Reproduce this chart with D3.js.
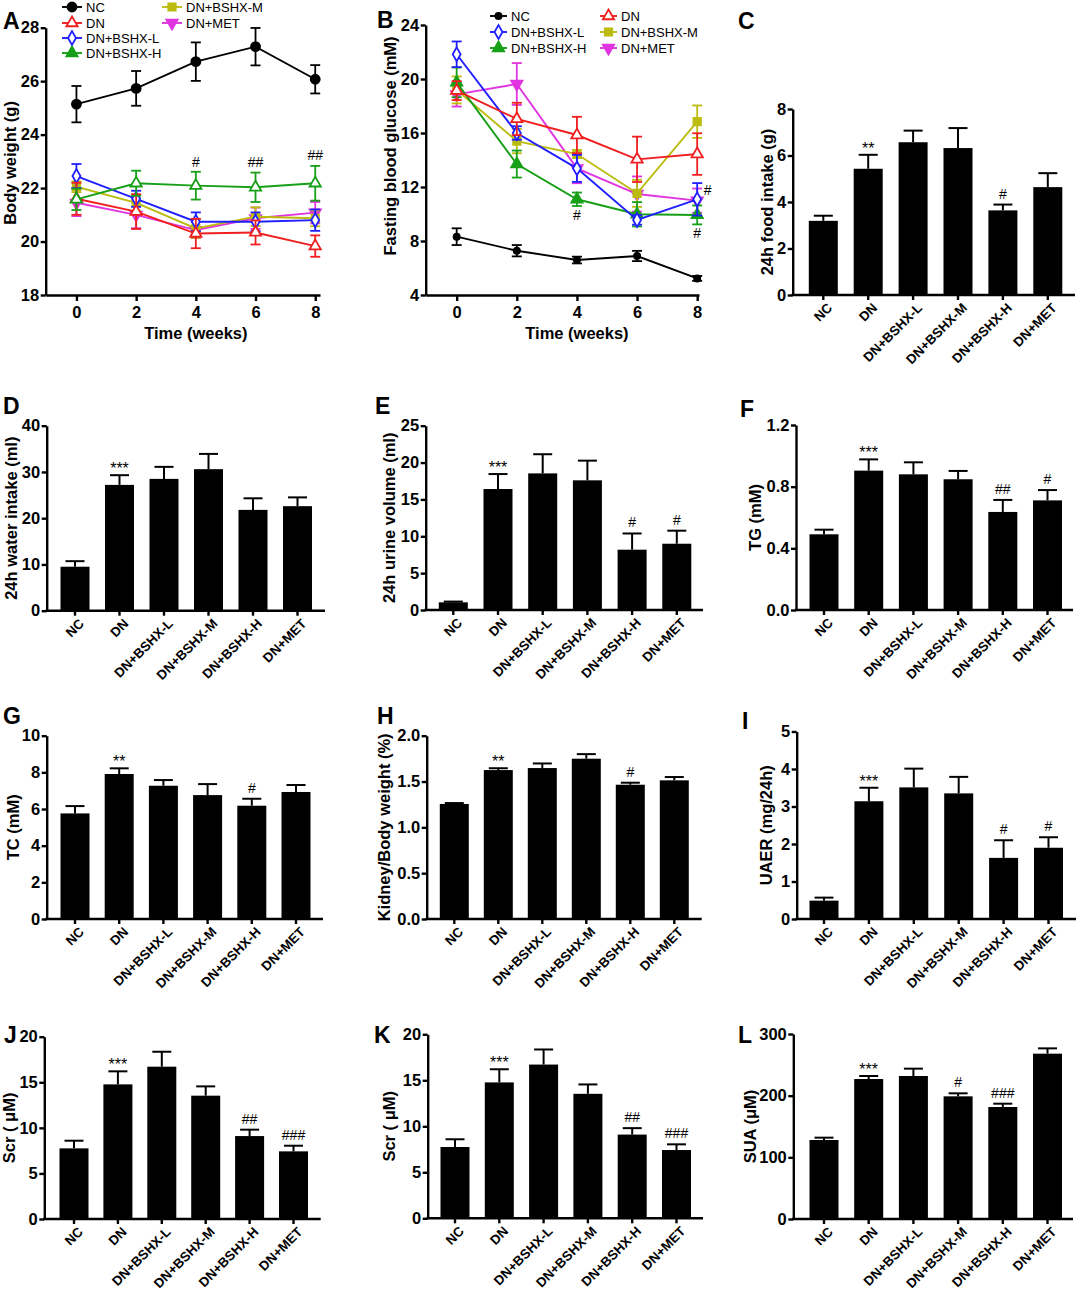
<!DOCTYPE html>
<html>
<head>
<meta charset="utf-8">
<script src="https://cdn.jsdelivr.net/npm/d3@7"></script>
<style>
  body { margin: 0; background: #fff; }
  svg { display: block; }
</style>
</head>
<body>
<svg id="fig" width="1079" height="1292"></svg>
<script>
// ---- data ----
const groups = ['NC', 'DN', 'DN+BSHX-L', 'DN+BSHX-M', 'DN+BSHX-H', 'DN+MET'];
const weeks = [0, 2, 4, 6, 8];

// A: body weight (g), mean and SEM per week
const bwNC = [25.14, 25.73, 26.73, 27.29, 26.07];
const bwNCErr = [0.68, 0.65, 0.72, 0.7, 0.53];
const bwDN = [21.6, 21.12, 20.3, 20.34, 19.83];
const bwDNErr = [0.6, 0.65, 0.55, 0.45, 0.4];
const bwL = [22.45, 21.6, 20.74, 20.74, 20.8];
const bwLErr = [0.45, 0.3, 0.35, 0.35, 0.4];
const bwM = [22.05, 21.45, 20.49, 20.93, 20.87];
const bwMErr = [0.2, 0.3, 0.35, 0.35, 0.3];
const bwH = [21.58, 22.18, 22.09, 22.03, 22.18];
const bwHErr = [0.4, 0.47, 0.52, 0.55, 0.65];
const bwMET = [21.45, 21.0, 20.43, 20.87, 21.08];
const bwMETErr = [0.5, 0.5, 0.3, 0.4, 0.4];

// B: fasting blood glucose (mM)
const fbgNC = [8.32, 7.28, 6.59, 6.89, 5.23];
const fbgNCErr = [0.62, 0.42, 0.25, 0.38, 0.18];
const fbgDN = [19.14, 17.04, 15.85, 14.05, 14.44];
const fbgDNErr = [0.7, 1.2, 1.35, 1.68, 1.54];
const fbgL = [21.83, 16.0, 13.38, 9.56, 11.09];
const fbgLErr = [0.95, 0.5, 1.0, 0.35, 1.2];
const fbgM = [19.19, 15.4, 14.44, 11.53, 16.84];
const fbgMErr = [1.0, 0.9, 0.3, 1.0, 1.2];
const fbgH = [19.75, 13.7, 11.09, 9.98, 9.93];
const fbgHErr = [1.1, 1.0, 0.5, 0.9, 0.7];
const fbgMET = [18.86, 19.63, 13.38, 11.48, 10.99];
const fbgMETErr = [0.9, 1.55, 1.1, 1.3, 0.9];

// C-L: bar panels, mean and SEM per group
const food = [3.19, 5.43, 6.57, 6.32, 3.64, 4.64];
const foodErr = [0.22, 0.6, 0.5, 0.86, 0.25, 0.6];
const water = [9.51, 27.2, 28.5, 30.6, 21.8, 22.6];
const waterErr = [1.2, 2.1, 2.6, 3.3, 2.5, 1.9];
const urine = [1.04, 16.41, 18.53, 17.59, 8.18, 8.99];
const urineErr = [0.1, 2.03, 2.6, 2.67, 2.2, 1.77];
const tg = [0.491, 0.904, 0.88, 0.848, 0.636, 0.711];
const tgErr = [0.03, 0.073, 0.078, 0.054, 0.078, 0.067];
const tc = [5.76, 7.91, 7.27, 6.76, 6.18, 6.93];
const tcErr = [0.4, 0.31, 0.31, 0.6, 0.38, 0.38];
const kidney = [1.255, 1.625, 1.647, 1.749, 1.465, 1.513];
const kidneyErr = [0.01, 0.02, 0.05, 0.05, 0.022, 0.036];
const uaer = [0.49, 3.14, 3.51, 3.35, 1.63, 1.9];
const uaerErr = [0.08, 0.36, 0.5, 0.44, 0.47, 0.28];
const scr = [7.75, 14.77, 16.71, 13.53, 9.1, 7.42];
const scrErr = [0.84, 1.43, 1.64, 1.02, 0.7, 0.62];
const sua = [128.1, 227, 231.9, 198.9, 181.6, 268.1];
const suaErr = [3.8, 4.9, 11.9, 4.9, 5.4, 8.6];

// significance marks: [group index, text]
const markFood = [[1, '**'], [4, '#']];
const markWater = [[1, '***']];
const markUrine = [[1, '***'], [4, '#'], [5, '#']];
const markTg = [[1, '***'], [4, '##'], [5, '#']];
const markTc = [[1, '**'], [4, '#']];
const markKidney = [[1, '**'], [4, '#']];
const markUaer = [[1, '***'], [4, '#'], [5, '#']];
const markScr = [[1, '***'], [4, '##'], [5, '###']];
const markSua = [[1, '***'], [3, '#'], [4, '###']];

// marks in the line panels: [week, value, text]
const markBw = [[4, 22.8, '#'], [6, 22.8, '##'], [8, 23.05, '##']];
const markFbg = [[4, 9.56, '#'], [8.35, 11.4, '#'], [8, 8.2, '#']];

const FONT = '"Liberation Sans", Arial, Helvetica, sans-serif';
const svg = d3.select('#fig').attr('font-family', FONT);
svg.append('rect').attr('width', 1079).attr('height', 1292).attr('fill', '#fff');

const triDown = {
  draw(ctx, size) { d3.symbolTriangle.draw(ctx, size); }
};

const styles = {
  NC: { color: '#000000', sym: d3.symbolCircle, fill: '#000000' },
  DN: { color: '#f01e1e', sym: d3.symbolTriangle, fill: '#ffffff' },
  L: { color: '#1f1fff', sym: d3.symbolDiamond, fill: '#ffffff' },
  M: { color: '#bcbc10', sym: d3.symbolSquare, fill: '#bcbc10' },
  H: { color: '#17a017', sym: d3.symbolTriangle, fill: '#17a017' },
  MET: { color: '#e034e0', sym: triDown, fill: '#e034e0', flip: true }
};

function styleAxis(g, size) {
  g.attr('font-family', FONT).attr('font-size', size).attr('font-weight', 'bold');
  g.selectAll('path, line').attr('stroke', '#000').attr('stroke-width', 2.4);
  g.selectAll('text').attr('fill', '#000');
}

function letter(t, x, y) {
  svg.append('text').attr('x', x).attr('y', y).text(t)
    .attr('font-size', 23).attr('font-weight', 'bold');
}

function yTitle(t, x, y, size) {
  svg.append('text').attr('transform', `translate(${x},${y}) rotate(-90)`)
    .attr('text-anchor', 'middle').attr('dy', '0.35em')
    .attr('font-size', size || 16.5).attr('font-weight', 'bold').text(t);
}

function marker(g, st, size, x, y) {
  g.append('path')
    .attr('d', d3.symbol(st.sym, size)())
    .attr('transform', `translate(${x},${y})${st.flip ? ' rotate(180)' : ''}`)
    .attr('fill', st.fill).attr('stroke', st.color).attr('stroke-width', 1.8);
}

/** Line chart with symmetric error bars. */
function linePanel(o) {
  const x = d3.scaleLinear().domain(o.xDomain).range([o.left, o.right]);
  const y = d3.scaleLinear().domain(o.yDomain).range([o.bottom, o.top]);
  const g = svg.append('g');

  o.series.forEach(s => {
    const st = styles[s.key];
    const sg = g.append('g');
    const pts = weeks.map((w, i) => ({ w, v: s.vals[i], e: s.errs[i] }));

    sg.selectAll('line.eb').data(pts).join('line')
      .attr('x1', d => x(d.w)).attr('x2', d => x(d.w))
      .attr('y1', d => y(d.v - d.e)).attr('y2', d => y(d.v + d.e))
      .attr('stroke', st.color).attr('stroke-width', 1.8);
    [-1, 1].forEach(sign => {
      sg.selectAll(null).data(pts).join('line')
        .attr('x1', d => x(d.w) - 5).attr('x2', d => x(d.w) + 5)
        .attr('y1', d => y(d.v + sign * d.e)).attr('y2', d => y(d.v + sign * d.e))
        .attr('stroke', st.color).attr('stroke-width', 1.8);
    });

    sg.append('path')
      .attr('d', d3.line().x(d => x(d.w)).y(d => y(d.v))(pts))
      .attr('fill', 'none').attr('stroke', st.color).attr('stroke-width', 1.9);

    const msize = s.key === 'NC' ? o.ncSize : 55;
    const mst = (s.key === 'H' && o.hOpen) ? { ...st, fill: '#ffffff' } : st;
    pts.forEach(d => marker(sg, mst, msize, x(d.w), y(d.v)));
  });

  const ya = g.append('g').attr('transform', `translate(${o.left},0)`)
    .call(d3.axisLeft(y).tickValues(o.yTicks).tickSize(5).tickSizeOuter(0).tickPadding(1.5));
  styleAxis(ya, 16.5);
  const xa = g.append('g').attr('transform', `translate(0,${o.bottom})`)
    .call(d3.axisBottom(x).tickValues(weeks).tickSize(6).tickSizeOuter(0).tickPadding(5));
  styleAxis(xa, 16.5);

  g.append('text').attr('x', (x(0) + x(8)) / 2).attr('y', o.xTitleY)
    .attr('text-anchor', 'middle').attr('font-size', 16.5).attr('font-weight', 'bold')
    .text('Time (weeks)');

  o.marks.forEach(([w, v, t]) => {
    g.append('text').attr('x', x(w)).attr('y', y(v)).attr('text-anchor', 'middle')
      .attr('font-size', 14).text(t);
  });

  o.legend.forEach(l => {
    const st = styles[l.key];
    const lg = g.append('g');
    lg.append('line').attr('x1', l.x).attr('x2', l.x + o.legLen)
      .attr('y1', l.y).attr('y2', l.y).attr('stroke', st.color).attr('stroke-width', 1.9);
    marker(lg, st, l.key === 'NC' ? o.ncSize : 55, l.x + o.legLen / 2, l.y);
    lg.append('text').attr('x', l.x + o.legLen + 4).attr('y', l.y).attr('dy', '0.35em')
      .attr('font-size', 13).text(l.name);
  });
}

/** Bar chart with upward error bars and rotated group labels. */
function barPanel(o) {
  const bw = 29;
  const pad = 1 - bw / o.step;
  const x = d3.scaleBand().domain(groups)
    .range([o.c0 - o.step / 2, o.c0 + o.step * 5.5])
    .paddingInner(pad).paddingOuter(pad / 2);
  const y = d3.scaleLinear().domain([0, o.ticks[o.ticks.length - 1]]).range([o.bottom, o.top]);
  const g = svg.append('g');
  const data = groups.map((k, i) => ({ k, v: o.vals[i], e: o.errs[i] }));

  g.selectAll('line.eb').data(data).join('line')
    .attr('x1', d => x(d.k) + x.bandwidth() / 2).attr('x2', d => x(d.k) + x.bandwidth() / 2)
    .attr('y1', d => y(d.v)).attr('y2', d => y(d.v + d.e))
    .attr('stroke', '#000').attr('stroke-width', 2);
  g.selectAll('line.cap').data(data).join('line')
    .attr('x1', d => x(d.k) + x.bandwidth() / 2 - 9.5).attr('x2', d => x(d.k) + x.bandwidth() / 2 + 9.5)
    .attr('y1', d => y(d.v + d.e)).attr('y2', d => y(d.v + d.e))
    .attr('stroke', '#000').attr('stroke-width', 2);

  g.selectAll('rect').data(data).join('rect')
    .attr('x', d => x(d.k)).attr('width', x.bandwidth())
    .attr('y', d => y(d.v)).attr('height', d => o.bottom - y(d.v))
    .attr('fill', '#000');

  const ya = g.append('g').attr('transform', `translate(${o.left},0)`)
    .call(d3.axisLeft(y).tickValues(o.ticks).tickFormat(d3.format(o.fmt || 'd'))
      .tickSize(5).tickSizeOuter(0).tickPadding(1.5));
  styleAxis(ya, 16.5);

  const xa = g.append('g').attr('transform', `translate(0,${o.bottom})`)
    .call(d3.axisBottom(x).tickSize(5).tickSizeOuter(0));
  xa.select('.domain').remove();
  styleAxis(xa, 13.3);
  xa.selectAll('text')
    .attr('x', 0).attr('y', 0).attr('dy', '0.72em')
    .attr('transform', 'translate(3,7) rotate(-45)')
    .attr('text-anchor', 'end');
  g.append('line').attr('x1', o.left - 1.2).attr('x2', o.right)
    .attr('y1', o.bottom).attr('y2', o.bottom)
    .attr('stroke', '#000').attr('stroke-width', 2.4);

  o.marks.forEach(([i, t]) => {
    const d = data[i];
    const stars = t[0] === '*';
    g.append('text')
      .attr('x', x(d.k) + x.bandwidth() / 2)
      .attr('y', y(d.v + d.e) - (stars ? 1 : 6))
      .attr('text-anchor', 'middle')
      .attr('font-size', stars ? 16 : 14)
      .text(t);
  });

  yTitle(o.title, o.titleX, o.titleY || (o.top + o.bottom) / 2);
}

// ---- panels ----
letter('A', 3, 29);
linePanel({
  left: 45.7, right: 320, top: 27.7, bottom: 295,
  xDomain: [-1.03, 8.16], yDomain: [18, 28], yTicks: [18, 20, 22, 24, 26, 28],
  xTitleY: 339, ncSize: 64, hOpen: true, legLen: 20,
  series: [
    { key: 'NC', vals: bwNC, errs: bwNCErr },
    { key: 'MET', vals: bwMET, errs: bwMETErr },
    { key: 'M', vals: bwM, errs: bwMErr },
    { key: 'L', vals: bwL, errs: bwLErr },
    { key: 'DN', vals: bwDN, errs: bwDNErr },
    { key: 'H', vals: bwH, errs: bwHErr }
  ],
  marks: markBw,
  legend: [
    { key: 'NC', name: 'NC', x: 62, y: 7 },
    { key: 'DN', name: 'DN', x: 62, y: 23 },
    { key: 'L', name: 'DN+BSHX-L', x: 62, y: 38 },
    { key: 'H', name: 'DN+BSHX-H', x: 62, y: 53 },
    { key: 'M', name: 'DN+BSHX-M', x: 162, y: 7 },
    { key: 'MET', name: 'DN+MET', x: 162, y: 23 }
  ]
});
yTitle('Body weight (g)', 10, 163);

letter('B', 377, 28);
linePanel({
  left: 425.7, right: 699, top: 25, bottom: 295,
  xDomain: [-1.03, 8.06], yDomain: [4, 24], yTicks: [4, 8, 12, 16, 20, 24],
  xTitleY: 339, ncSize: 30, hOpen: false, legLen: 17,
  series: [
    { key: 'NC', vals: fbgNC, errs: fbgNCErr },
    { key: 'MET', vals: fbgMET, errs: fbgMETErr },
    { key: 'M', vals: fbgM, errs: fbgMErr },
    { key: 'H', vals: fbgH, errs: fbgHErr },
    { key: 'L', vals: fbgL, errs: fbgLErr },
    { key: 'DN', vals: fbgDN, errs: fbgDNErr }
  ],
  marks: markFbg,
  legend: [
    { key: 'NC', name: 'NC', x: 490, y: 16 },
    { key: 'L', name: 'DN+BSHX-L', x: 490, y: 32 },
    { key: 'H', name: 'DN+BSHX-H', x: 490, y: 48 },
    { key: 'DN', name: 'DN', x: 600, y: 16 },
    { key: 'M', name: 'DN+BSHX-M', x: 600, y: 32 },
    { key: 'MET', name: 'DN+MET', x: 600, y: 48 }
  ]
});
yTitle('Fasting blood glucose (mM)', 390, 146);

letter('C', 738, 29);
barPanel({ left: 792.7, right: 1075, top: 109, bottom: 295, c0: 823.3, step: 44.9,
  ticks: [0, 2, 4, 6, 8], vals: food, errs: foodErr, marks: markFood,
  title: '24h food intake (g)', titleX: 767 });

letter('D', 3, 414);
barPanel({ left: 46.7, right: 325, top: 425.7, bottom: 610.7, c0: 75, step: 44.5,
  ticks: [0, 10, 20, 30, 40], vals: water, errs: waterErr, marks: markWater,
  title: '24h water intake (ml)', titleX: 11 });

letter('E', 375, 414);
barPanel({ left: 425.7, right: 703, top: 425.7, bottom: 610, c0: 453.3, step: 44.7,
  ticks: [0, 5, 10, 15, 20, 25], vals: urine, errs: urineErr, marks: markUrine,
  title: '24h urine volume (ml)', titleX: 389 });

letter('F', 740, 417);
barPanel({ left: 796, right: 1073, top: 425, bottom: 610, c0: 824, step: 44.7,
  ticks: [0, 0.4, 0.8, 1.2], fmt: '.1f', vals: tg, errs: tgErr, marks: markTg,
  title: 'TG (mM)', titleX: 755 });

letter('G', 3, 724);
barPanel({ left: 46.7, right: 323, top: 735.7, bottom: 919, c0: 75, step: 44.2,
  ticks: [0, 2, 4, 6, 8, 10], vals: tc, errs: tcErr, marks: markTc,
  title: 'TC (mM)', titleX: 13 });

letter('H', 377, 724);
barPanel({ left: 426.7, right: 701.7, top: 735.7, bottom: 919, c0: 454.3, step: 44,
  ticks: [0, 0.5, 1, 1.5, 2], fmt: '.1f', vals: kidney, errs: kidneyErr, marks: markKidney,
  title: 'Kidney/Body weight (%)', titleX: 384 });

letter('I', 742, 729);
barPanel({ left: 796.7, right: 1076, top: 731.5, bottom: 919, c0: 824, step: 44.9,
  ticks: [0, 1, 2, 3, 4, 5], vals: uaer, errs: uaerErr, marks: markUaer,
  title: 'UAER (mg/24h)', titleX: 766 });

letter('J', 4, 1043);
barPanel({ left: 44.3, right: 320.7, top: 1036.7, bottom: 1219, c0: 74, step: 43.9,
  ticks: [0, 5, 10, 15, 20], vals: scr, errs: scrErr, marks: markScr,
  title: 'Scr ( \u03bcM)', titleX: 9 });

letter('K', 374, 1043);
barPanel({ left: 427.7, right: 703, top: 1034.3, bottom: 1218.3, c0: 455, step: 44.3,
  ticks: [0, 5, 10, 15, 20], vals: scr, errs: scrErr, marks: markScr,
  title: 'Scr ( \u03bcM)', titleX: 389 });

letter('L', 738, 1043);
barPanel({ left: 793.3, right: 1073, top: 1034, bottom: 1219, c0: 824, step: 44.7,
  ticks: [0, 100, 200, 300], vals: sua, errs: suaErr, marks: markSua,
  title: 'SUA (\u03bcM)', titleX: 750 });
</script>
</body>
</html>
